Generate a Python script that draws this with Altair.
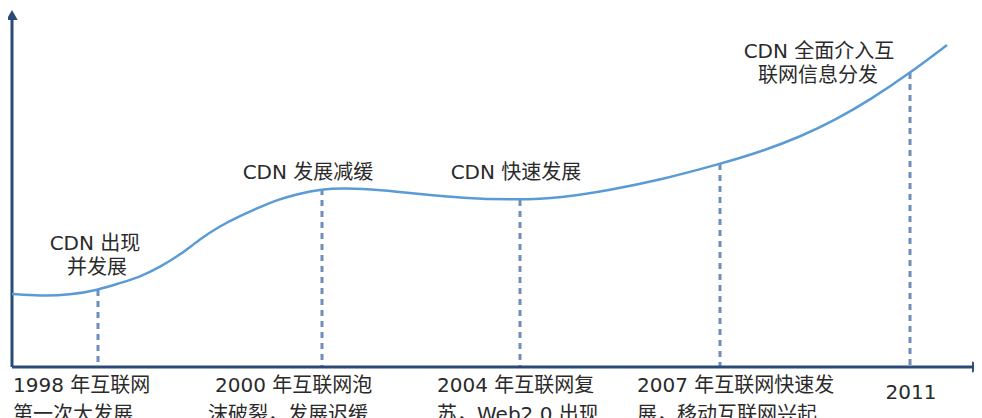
import altair as alt
import pandas as pd

# development curve (timeline position, development level)
curve_x = [0, 28, 58, 86, 108, 128, 148, 168, 188, 208, 228, 248, 265, 285, 310, 333,
           368, 408, 448, 508, 548, 598, 648, 708, 748, 788, 825, 858, 898, 935]
curve_y = [73, 71, 72, 77, 84, 90, 100, 112, 128, 141, 151, 160, 167, 173, 178, 179,
           177, 173, 169, 167, 169, 177, 187, 203, 215, 230, 248, 267, 294, 322]

# milestone positions on the timeline
event_x = [86, 310, 508, 708, 898]
event_y = [curve_y[curve_x.index(v)] for v in event_x]

# labels above the curve
top_text = ["CDN 出现", "并发展", "CDN 发展减缓", "CDN 快速发展", "CDN 全面介入互", "联网信息分发"]
top_x = [83, 85, 296, 504, 807, 806]
top_y = [123, 99, 194, 194, 315, 291]

# labels below the timeline axis
bottom_text = ["1998 年互联网", "第一次大发展",
               "2000 年互联网泡", "沫破裂，发展迟缓",
               "2004 年互联网复", "苏，Web2.0 出现",
               "2007 年互联网快速发", "展，移动互联网兴起"]
bottom_x = [1, 1, 203, 196, 425, 425, 625, 625]
bottom_y = [-19, -48, -19, -48, -19, -48, -19, -48]
end_text = ["2011"]
end_x = [899]
end_y = [-26]

axis_x_end = 968
axis_y_end = 354

FONT = "DejaVu Sans, Noto Sans CJK SC"
AXIS_COLOR = "#2B4A78"

xs = alt.Scale(domain=[0, 968], range=[4, 972])
ys = alt.Scale(domain=[0, 354], range=[359, 5])
X = lambda f: alt.X(f, type="quantitative", scale=xs, axis=None)
Y = lambda f: alt.Y(f, type="quantitative", scale=ys, axis=None)

curve_df = pd.DataFrame({"x": curve_x, "y": curve_y})
event_df = pd.DataFrame({"x": event_x, "y": event_y, "y0": [0] * len(event_x)})
top_df = pd.DataFrame({"t": top_text, "x": top_x, "y": top_y})
bottom_df = pd.DataFrame({"t": bottom_text, "x": bottom_x, "y": bottom_y})
end_df = pd.DataFrame({"t": end_text, "x": end_x, "y": end_y})
axes_df = pd.DataFrame({"x": [0, 0], "y": [0, 0],
                        "x2": [axis_x_end - 6, 0], "y2": [0, axis_y_end - 6]})
arrow_df = pd.DataFrame({"x": [axis_x_end - 3, 0], "y": [0, axis_y_end - 2],
                         "s": ["triangle-right", "triangle-up"]})

dashes = alt.Chart(event_df).mark_rule(
    color="#6F8FBA", strokeWidth=3, strokeDash=[6, 5]
).encode(x=X("x"), y=Y("y"), y2="y0")

axes = alt.Chart(axes_df).mark_rule(color=AXIS_COLOR, strokeWidth=3).encode(
    x=X("x"), x2="x2", y=Y("y"), y2="y2")

arrows = alt.Chart(arrow_df).mark_point(
    filled=True, color=AXIS_COLOR, size=130, opacity=1
).encode(x=X("x"), y=Y("y"), shape=alt.Shape("s:N", scale=None))

curve = alt.Chart(curve_df).mark_line(
    color="#5B9BD5", strokeWidth=2.5, interpolate="basis"
).encode(x=X("x"), y=Y("y"))

top_labels = alt.Chart(top_df).mark_text(
    font=FONT, fontSize=20, color="#2a2a2a", align="center", baseline="middle"
).encode(x=X("x"), y=Y("y"), text="t:N")

bottom_labels = alt.Chart(bottom_df).mark_text(
    font=FONT, fontSize=20, color="#2a2a2a", align="left", baseline="middle"
).encode(x=X("x"), y=Y("y"), text="t:N")

end_labels = alt.Chart(end_df).mark_text(
    font=FONT, fontSize=20, color="#2a2a2a", align="center", baseline="middle"
).encode(x=X("x"), y=Y("y"), text="t:N")

chart = alt.layer(
    dashes, axes, arrows, curve, top_labels, bottom_labels, end_labels
).properties(
    width=966, height=410, padding=0,
    autosize=alt.AutoSizeParams(type="none"),
    view=alt.ViewBackground(stroke="transparent", strokeWidth=0)
).configure_view(stroke="transparent", strokeWidth=0).configure(background="white")

chart.save("out.html", embed_options={"renderer": "svg", "actions": False})
